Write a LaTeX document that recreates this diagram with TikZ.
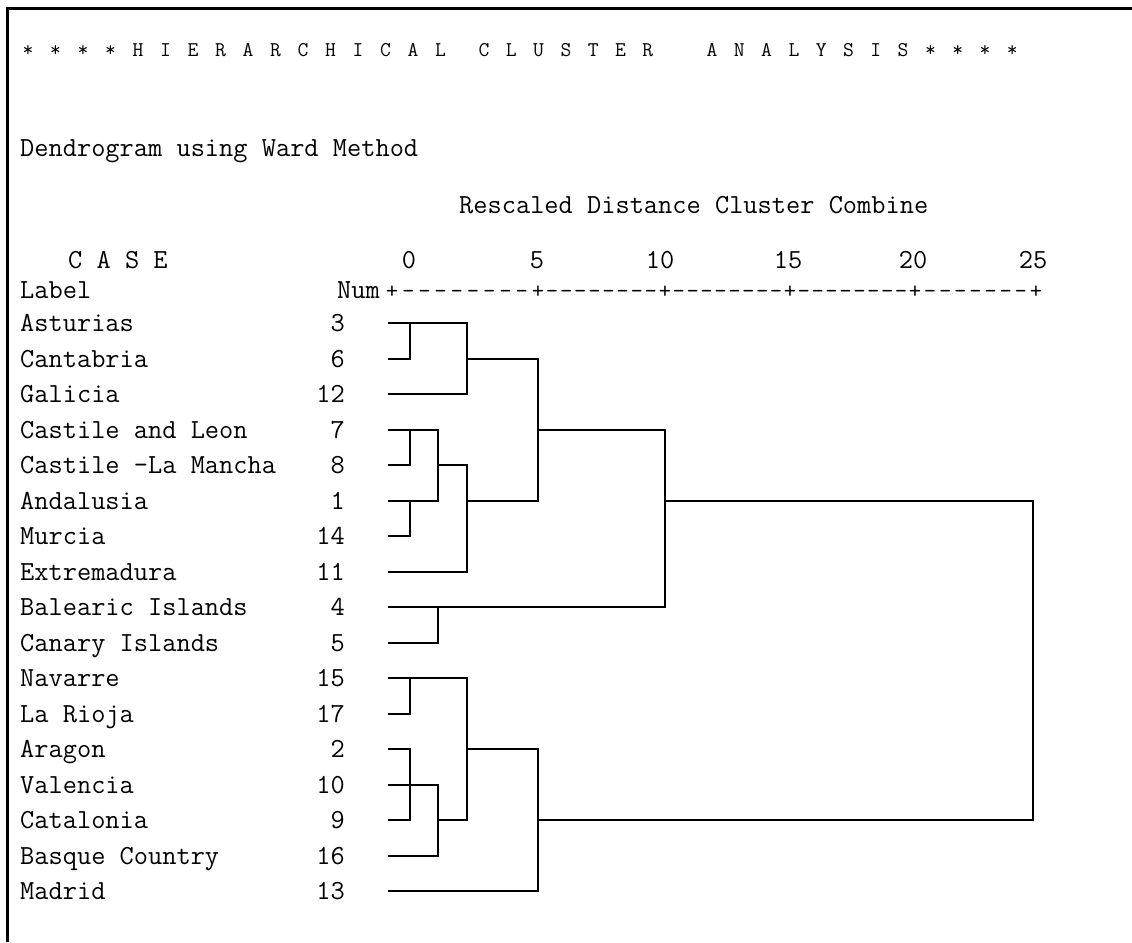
\documentclass[tikz,border=0pt]{standalone}
\usepackage{fontspec}
\begin{document}
\begin{tikzpicture}[x=1pt,y=-1pt,
  txt/.style={font=\ttfamily\fontsize{27.6}{30}\selectfont, inner sep=0pt, anchor=base west},
  numtxt/.style={font=\ttfamily\fontsize{27.6}{30}\selectfont, inner sep=0pt, anchor=base east},
  ttl/.style={font=\ttfamily\fontsize{21}{24}\selectfont, inner sep=0pt, anchor=base},
  axtxt/.style={font=\ttfamily\fontsize{27.6}{30}\selectfont, inner sep=0pt, anchor=base},
  axdash/.style={font=\ttfamily\fontsize{24}{30}\selectfont, inner sep=0pt, anchor=base},
  dline/.style={line width=2pt, line cap=rect, line join=miter},
  frameline/.style={line width=3pt}]
\useasboundingbox (0,0) rectangle (1132,942);
% frame
\coordinate (fa) at (1132,9);
\coordinate (fb) at (7,9);
\coordinate (fc) at (7,942);
\draw[frameline] (fa) -- (fb) -- (fc);
% title
\foreach \ch [count=\i from 0] in {*,*,*,*,H,I,E,R,A,R,C,H,I,C,A,L}
  \node[ttl] (ta\i) at ({28+27.5*\i},57) {\ch};
\foreach \ch [count=\i from 0] in {C,L,U,S,T,E,R}
  \node[ttl] (tb\i) at ({484+27.3*\i},57) {\ch};
\foreach \ch [count=\i from 0] in {A,N,A,L,Y,S,I,S,*,*,*,*}
  \node[ttl] (tc\i) at ({712+27.3*\i},57) {\ch};
% header
\node[txt] (dend) at (20,156) {Dendrogram using Ward Method};
\node[txt] (resc) at (459,213) {Rescaled Distance Cluster Combine};
\node[txt] (case) at (68,268) {C A S E};
\node[txt] (labl) at (20,298) {Label};
\node[numtxt] (numh) at (380,298) {Num};
\foreach \v/\p in {0/409,5/537,10/660,15/788,20/913,25/1033}
  \node[axtxt] (sc\v) at (\p,268) {\v};
\foreach \p [count=\k] in {392,538,665,790,915,1036}
  \node[axdash] (plus\k) at (\p,298) {+};
\foreach \a/\b/\n [count=\k] in {392/538/8,538/665/8,665/790/8,790/915/8,915/1036/7}
  \foreach \j in {1,...,\n}
    \node[axdash] (dash\k-\j) at ({\a+(\b-\a)*\j/(\n+1)},298) {-};
% rows
\foreach \lab/\num [count=\i] in {Asturias/3,Cantabria/6,Galicia/12,Castile and Leon/7,Castile -La Mancha/8,Andalusia/1,Murcia/14,Extremadura/11,Balearic Islands/4,Canary Islands/5,Navarre/15,La Rioja/17,Aragon/2,Valencia/10,Catalonia/9,Basque Country/16,Madrid/13}{
  \pgfmathsetmacro\yy{323+35.5*(\i-1)}
  \node[txt] (lab\i) at (20,\yy+8.5) {\lab};
  \node[numtxt] (num\i) at (345,\yy+8.5) {\num};
  \coordinate (s\i) at (389,\yy);
}
% merge columns
\coordinate (xa) at (410,0);
\coordinate (xb) at (438,0);
\coordinate (xc) at (467,0);
\coordinate (xd) at (538,0);
\coordinate (xe) at (665,0);
\coordinate (xf) at (1033,0);
% dendrogram
\draw[dline] (s1) -- (xc |- s1) -- (xc |- s3) -- (s3);
\draw[dline] (s2) -- (xa |- s2) -- (xa |- s1);
\draw[dline] (xc |- s2) -- (xd |- s2) -- (xd |- s6);
\draw[dline] (s4) -- (xb |- s4) -- (xb |- s6) -- (s6);
\draw[dline] (s5) -- (xa |- s5) -- (xa |- s4);
\draw[dline] (s7) -- (xa |- s7) -- (xa |- s6);
\draw[dline] (xb |- s5) -- (xc |- s5) -- (xc |- s8) -- (s8);
\draw[dline] (xc |- s6) -- (xd |- s6);
\draw[dline] (xd |- s4) -- (xe |- s4) -- (xe |- s9) -- (s9);
\draw[dline] (s10) -- (xb |- s10) -- (xb |- s9);
\draw[dline] (xe |- s6) -- (xf |- s6) -- (xf |- s15) -- (xd |- s15);
\draw[dline] (s11) -- (xc |- s11) -- (xc |- s15) -- (xb |- s15);
\draw[dline] (s12) -- (xa |- s12) -- (xa |- s11);
\draw[dline] (s13) -- (xa |- s13) -- (xa |- s15) -- (s15);
\draw[dline] (s14) -- (xb |- s14) -- (xb |- s16) -- (s16);
\draw[dline] (xc |- s13) -- (xd |- s13) -- (xd |- s17) -- (s17);
\end{tikzpicture}
\end{document}
